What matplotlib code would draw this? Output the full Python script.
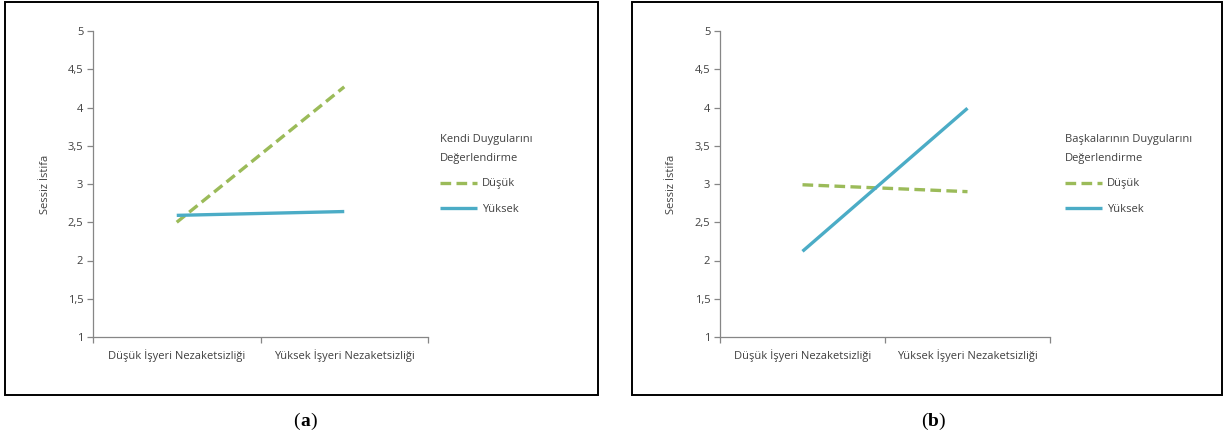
import matplotlib
matplotlib.use("Agg")
import matplotlib.pyplot as plt
from matplotlib.patches import Rectangle

categories = ["Düşük İşyeri Nezaketsizliği", "Yüksek İşyeri Nezaketsizliği"]
series_names = ["Düşük", "Yüksek"]
a_dusuk = [2.50, 4.27]
a_yuksek = [2.59, 2.64]
b_dusuk = [2.99, 2.90]
b_yuksek = [2.12, 3.99]
y_ticks = [1, 1.5, 2, 2.5, 3, 3.5, 4, 4.5, 5]
y_ticklabels = ["1", "1,5", "2", "2,5", "3", "3,5", "4", "4,5", "5"]
ylabel = "Sessiz İstifa"
legend_titles = ["Kendi Duygularını\nDeğerlendirme", "Başkalarının Duygularını\nDeğerlendirme"]
panel_labels = ["a", "b"]

GREEN = "#9BBB59"
BLUE = "#4BACC6"
AXC = "#868686"
TXT = "#404040"

plt.rcParams['font.family'] = ['Open Sans', 'DejaVu Sans']
W, H = 1227, 442
fig = plt.figure(figsize=(W / 100, H / 100), dpi=100)

def fx(px):
    return px / W

def fy(py):
    return 1 - py / H

# panel boxes
for x0, x1 in [(5, 598), (632, 1222)]:
    fig.patches.append(Rectangle((fx(x0), fy(395)), fx(x1 - x0), (393) / H,
                                 transform=fig.transFigure, fill=False,
                                 edgecolor="black", linewidth=1.4))

panels = [
    dict(ax_left=93, ax_right=428, dus=a_dusuk, yuk=a_yuksek, leg_x=440, title=legend_titles[0], lab_x=305, ylab_x=45),
    dict(ax_left=720, ax_right=1050, dus=b_dusuk, yuk=b_yuksek, leg_x=1065, title=legend_titles[1], lab_x=933, ylab_x=672),
]

for i, p in enumerate(panels):
    ax = fig.add_axes([fx(p['ax_left']), fy(337), fx(p['ax_right'] - p['ax_left']), (337 - 31) / H])
    x = [0, 1]
    l1, = ax.plot(x, p['dus'], color=GREEN, lw=2.4, ls=(0, (3.2, 1.6)), solid_capstyle='butt', dash_capstyle='butt')
    l2, = ax.plot(x, p['yuk'], color=BLUE, lw=2.4, solid_capstyle='butt')
    ax.set_xlim(-0.5, 1.5)
    ax.set_ylim(1, 5)
    ax.set_yticks(y_ticks, y_ticklabels)
    ax.set_xticks(x, categories)
    ax.set_xticks([-0.5, 0.5, 1.5], minor=True)
    ax.tick_params(axis='x', which='major', length=0, pad=9, labelsize=8, labelcolor=TXT)
    ax.tick_params(axis='x', which='minor', length=4, width=0.9, color=AXC, direction='out')
    ax.tick_params(axis='y', length=4, width=0.9, color=AXC, labelsize=8, labelcolor=TXT, pad=3)
    for s in ['top', 'right']:
        ax.spines[s].set_visible(False)
    for s in ['left', 'bottom']:
        ax.spines[s].set_color(AXC)
        ax.spines[s].set_linewidth(0.9)
    fig.text(fx(p['ylab_x']), fy(184), ylabel, rotation=90, ha='center', va='center', fontsize=8, color=TXT)
    leg = ax.legend([l1, l2], series_names, title=p['title'], loc='upper left',
                    bbox_to_anchor=(fx(p['leg_x']), fy(134)), bbox_transform=fig.transFigure,
                    frameon=False, fontsize=8, title_fontsize=8, alignment='left',
                    handlelength=3.3, handletextpad=0.5, labelspacing=1.3, borderaxespad=0, borderpad=0)
    leg.get_title().set_color(TXT)
    leg.get_title().set_linespacing(2.0)
    for t in leg.get_texts():
        t.set_color(TXT)
    fig.text(fx(p['lab_x'] - 5), fy(421), "(", ha='right', va='center', fontsize=14, family='Liberation Serif')
    fig.text(fx(p['lab_x']), fy(421), panel_labels[i], ha='center', va='center', fontsize=14, family='Liberation Serif', weight='bold')
    fig.text(fx(p['lab_x'] + 5), fy(421), ")", ha='left', va='center', fontsize=14, family='Liberation Serif')

fig.savefig("out.png", dpi=100)
